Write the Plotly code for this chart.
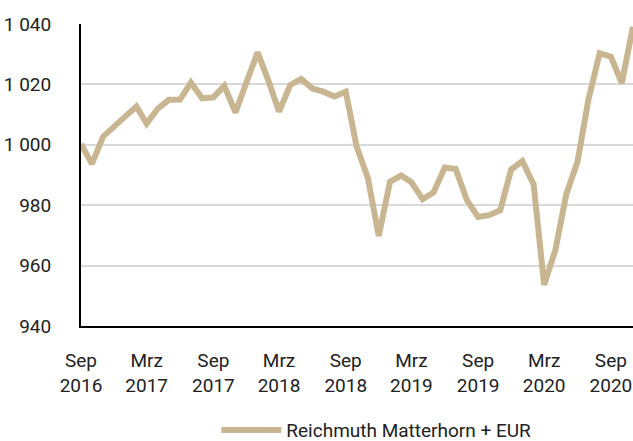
import pandas as pd
import plotly.graph_objects as go

start_month = "2016-09-01"
values = [1000.3, 993.7, 1002.7, 1006.3, 1009.4, 1012.7, 1007.0, 1012.0, 1014.9, 1015.0,
          1020.6, 1015.4, 1015.7, 1019.5, 1010.7, 1020.6, 1030.6, 1020.8, 1011.0, 1019.8,
          1021.8, 1018.6, 1017.6, 1016.0, 1017.6, 999.4, 989.0, 969.8, 987.8, 989.8,
          987.6, 982.0, 984.2, 992.5, 992.0, 981.7, 976.1, 976.7, 978.3, 991.8,
          994.6, 986.9, 953.6, 965.2, 983.6, 994.4, 1014.9, 1030.3, 1029.2, 1020.4, 1039.1]
dates = pd.date_range(start_month, periods=len(values), freq="MS")

tick_dates = ["2016-09-01", "2017-03-01", "2017-09-01", "2018-03-01", "2018-09-01",
              "2019-03-01", "2019-09-01", "2020-03-01", "2020-09-01"]
tick_labels = ["Sep<br>2016", "Mrz<br>2017", "Sep<br>2017", "Mrz<br>2018", "Sep<br>2018",
               "Mrz<br>2019", "Sep<br>2019", "Mrz<br>2020", "Sep<br>2020"]
y_ticks = [940, 960, 980, 1000, 1020, 1040]
y_labels = ["940", "960", "980", "1 000", "1 020", "1 040"]
series_name = "Reichmuth Matterhorn + EUR"

FONT = "Roboto, sans-serif"
COLOR = "#c8b692"
font_main = dict(family=FONT, size=19, color="#222222")

fig = go.Figure()
fig.add_trace(go.Scatter(x=dates.strftime("%Y-%m-%d").tolist(), y=values, mode="lines",
                         name=series_name, line=dict(color=COLOR, width=6)))

fig.update_layout(
    width=633, height=441,
    margin=dict(l=81, r=0, t=24, b=115, autoexpand=False),
    paper_bgcolor="white", plot_bgcolor="white",
    font=font_main,
    showlegend=True,
    legend=dict(orientation="h", x=0.535, xanchor="center", y=-0.345, yanchor="middle",
                font=font_main, itemwidth=60),
)
fig.update_xaxes(
    range=[dates[0].strftime("%Y-%m-%d"), dates[-1].strftime("%Y-%m-%d")],
    tickvals=tick_dates, ticktext=tick_labels,
    showgrid=False, showline=True, linecolor="black", linewidth=2,
    ticks="", ticklabelstandoff=16, zeroline=False, automargin=False,
)
fig.update_yaxes(
    range=[940, 1040], tickvals=y_ticks, ticktext=y_labels,
    showgrid=True, gridcolor="#d9d9d9", gridwidth=2,
    showline=True, linecolor="black", linewidth=2,
    ticks="", ticklabelstandoff=24, zeroline=False, automargin=False,
)
fig.write_html("out.html", config={"displayModeBar": False},
               post_script="document.body.style.margin='0';")
